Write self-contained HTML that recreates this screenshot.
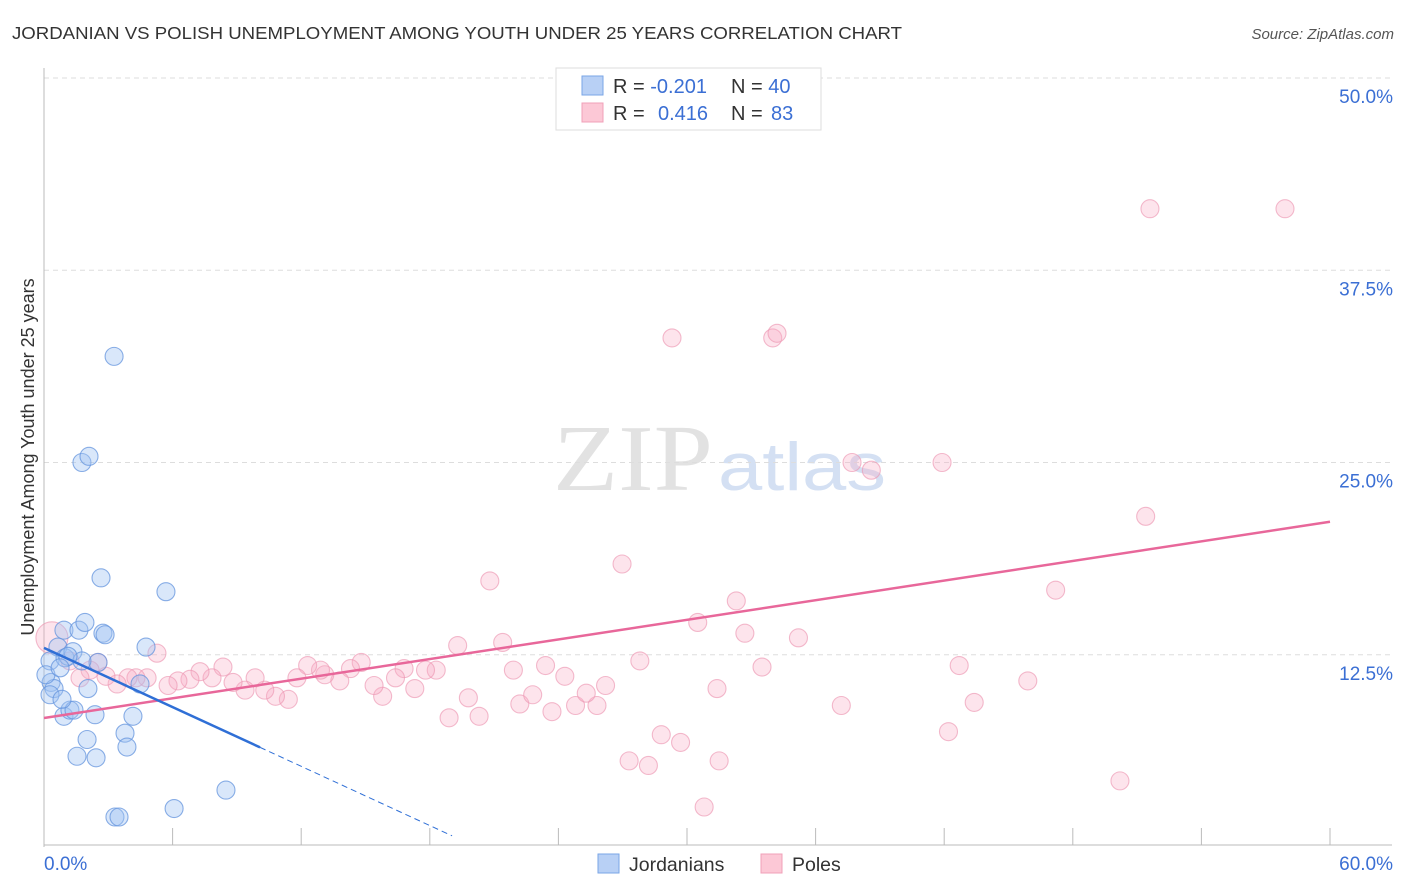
<!DOCTYPE html>
<html><head><meta charset="utf-8">
<style>
body{margin:0;background:#fff;font-family:"Liberation Sans",sans-serif;}
svg{display:block}
</style></head><body>
<svg id="chart" width="1406" height="892">
<text x="12" y="39" font-size="17.5" fill="#333" textLength="890" lengthAdjust="spacingAndGlyphs">JORDANIAN VS POLISH UNEMPLOYMENT AMONG YOUTH UNDER 25 YEARS CORRELATION CHART</text>
<text x="1394" y="39" font-size="15" fill="#555" font-style="italic" text-anchor="end">Source: ZipAtlas.com</text>
<text x="34" y="457" font-size="18" fill="#333" text-anchor="middle" transform="rotate(-90 34 457)">Unemployment Among Youth under 25 years</text>
<text x="553" y="490" font-size="94" fill="#e2e2e2" font-family="Liberation Serif,serif" textLength="160" lengthAdjust="spacingAndGlyphs">ZIP</text>
<text x="718" y="490" font-size="68" fill="#d4e0f3" textLength="168" lengthAdjust="spacingAndGlyphs">atlas</text>
<g id="grid"></g><g id="axes"></g><g id="pts"></g><g id="trends"></g>
<g>
<rect x="556" y="68" width="265" height="62" fill="#fff" stroke="#ddd"/>
<rect x="582" y="76" width="21" height="19" fill="#b8d0f5" stroke="#7aa6e6"/>
<rect x="582" y="103" width="21" height="19" fill="#fcc8d6" stroke="#f0a0b8"/>
<text x="613" y="93" font-size="20" fill="#333">R = <tspan fill="#3b6fd4">-0.201</tspan><tspan x="731">N = </tspan><tspan fill="#3b6fd4">40</tspan></text>
<text x="613" y="120" font-size="20" fill="#333">R = <tspan x="658" fill="#3b6fd4">0.416</tspan><tspan x="731">N = </tspan><tspan x="771" fill="#3b6fd4">83</tspan></text>
</g>
<g>
<rect x="598" y="854" width="21" height="19" fill="#b8d0f5" stroke="#7aa6e6"/>
<text x="629" y="871" font-size="19.5" fill="#333">Jordanians</text>
<rect x="761" y="854" width="21" height="19" fill="#fcc8d6" stroke="#f0a0b8"/>
<text x="792" y="871" font-size="19.5" fill="#333">Poles</text>
</g>
</svg>
<script>
const yTicks=[12.5,25,37.5,50];
const yTickLabels=["12.5%","25.0%","37.5%","50.0%"];
const xTicks=[0,6,12,18,24,30,36,42,48,54,60];
const jordX=[3.27,1.77,2.10,2.66,5.69,0.93,1.63,1.91,2.75,2.85,4.76,0.65,0.28,0.98,1.35,2.52,1.77,4.48,2.05,0.33,0.47,0.28,0.93,1.21,1.40,2.38,4.15,0.84,2.01,3.78,3.87,1.54,2.43,8.49,6.07,3.31,3.50,0.09,1.12,0.75];
const jordY=[31.9,25.0,25.4,17.5,16.6,14.1,14.1,14.6,13.9,13.8,13.0,13.0,12.1,12.3,12.7,12.0,12.1,10.6,10.3,10.7,10.3,9.9,8.5,8.9,8.9,8.6,8.5,9.6,6.99,7.4,6.5,5.9,5.8,3.7,2.5,1.95,1.95,11.2,12.4,11.65];
const polesX=[51.6,57.9,29.3,34.0,34.2,37.7,38.6,41.9,51.4,26.97,20.8,47.2,32.3,30.5,32.7,35.2,19.3,21.4,27.8,42.7,33.5,45.9,31.4,37.2,43.4,42.2,50.2,30.8,31.5,29.7,28.8,27.3,28.2,23.7,25.8,24.8,25.3,22.2,22.8,20.3,18.9,19.8,24.3,26.2,23.4,21.9,18.3,17.8,17.3,16.8,16.4,15.8,15.4,14.8,14.3,13.8,13.1,12.9,12.3,11.8,11.4,10.8,10.3,9.85,9.38,8.82,8.35,7.84,7.28,6.81,6.25,5.79,5.27,4.81,4.29,3.92,3.41,2.89,2.52,2.15,1.68,1.21,0.37];
const polesY=[41.5,41.5,33.1,33.1,33.4,25.0,24.5,25.0,21.5,18.4,17.3,16.7,16.0,14.6,13.9,13.6,13.1,13.3,12.1,11.8,11.7,10.8,10.3,9.2,9.4,7.5,4.3,2.6,5.6,6.8,7.3,5.6,5.3,8.8,9.2,9.2,10.0,9.3,9.9,8.5,8.4,9.7,11.1,10.5,11.8,11.5,11.5,11.5,10.3,11.6,11.0,9.8,10.5,12.0,11.6,10.8,11.2,11.5,11.8,11.0,9.6,9.8,10.2,11.0,10.2,10.7,11.7,11.0,11.4,10.9,10.8,10.5,12.6,11.0,11.0,11.0,10.6,11.1,12.0,11.5,11.0,12.1,13.6];
const polesTrend=[8.39,21.15];
const jordTrend=[12.95,-0.642];
const NS="http://www.w3.org/2000/svg";
const X0=44,X1=1330,Y0=847,YT=78;
const xs=v=>X0+(X1-X0)*v/60;
const ys=v=>Y0-(Y0-YT)*v/50;
function mk(tag,attrs,parent){const e=document.createElementNS(NS,tag);for(const k in attrs)e.setAttribute(k,attrs[k]);document.getElementById(parent).appendChild(e);return e;}
yTicks.forEach((t,i)=>{
 const l=mk('line',{x1:X0,x2:1392,y1:ys(t),y2:ys(t),stroke:'#ddd','stroke-dasharray':'5,4'},'grid');
 
 
 const tx=mk('text',{x:1393,y:ys(t)+25,'font-size':19,fill:'#3b6fd4','text-anchor':'end'},'grid');
 tx.textContent=yTickLabels[i];
 
 
});
let a=mk('line',{x1:X0,x2:X0,y1:68,y2:Y0,stroke:'#bbb'},'axes');


a=mk('line',{x1:X0,x2:1392,y1:845,y2:845,stroke:'#bbb'},'axes');


xTicks.forEach(t=>{
 const l=mk('line',{x1:xs(t),x2:xs(t),y1:828,y2:845,stroke:'#bbb'},'axes');
 
 
});
let t0=mk('text',{x:44,y:870,'font-size':19,fill:'#3b6fd4'},'axes');t0.textContent='0.0%';


let t1=mk('text',{x:1393,y:870,'font-size':19,fill:'#3b6fd4','text-anchor':'end'},'axes');t1.textContent='60.0%';


polesX.forEach((x,i)=>{
 const r=i===polesX.length-1?16:9;
 const c=mk('circle',{cx:xs(x),cy:ys(polesY[i]),r:r,fill:'rgba(248,170,196,0.32)',stroke:'rgba(236,150,178,0.65)','stroke-width':1.1},'pts');
 
 
});
jordX.forEach((x,i)=>{
 const c=mk('circle',{cx:xs(x),cy:ys(jordY[i]),r:9,fill:'rgba(160,196,242,0.4)',stroke:'rgba(100,148,222,0.75)','stroke-width':1.1},'pts');
 
 
});
let pl=mk('line',{x1:xs(0),y1:ys(polesTrend[0]),x2:xs(60),y2:ys(polesTrend[1]),stroke:'#e8679a','stroke-width':2.5},'trends');


const jy=x=>jordTrend[0]+jordTrend[1]*x;
let jl=mk('line',{x1:xs(0),y1:ys(jy(0)),x2:xs(10.08),y2:ys(jy(10.08)),stroke:'#2f6fd6','stroke-width':2.5},'trends');


let jd=mk('line',{x1:xs(10.08),y1:ys(jy(10.08)),x2:xs(19.04),y2:ys(jy(19.04)),stroke:'#2f6fd6','stroke-width':1,'stroke-dasharray':'6,4'},'trends');


</script>
</body></html>
